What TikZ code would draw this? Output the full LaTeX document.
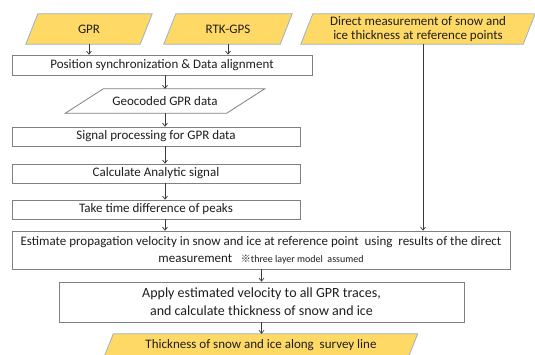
\documentclass[tikz,border=0pt]{standalone}
\usepackage{fontspec}
\setmainfont{Carlito}
\newfontfamily\cjkfont{Noto Sans CJK JP}
\usetikzlibrary{backgrounds,arrows.meta}
\definecolor{gold}{HTML}{FFD966}
\definecolor{edgeblue}{HTML}{9AB0C8}
\definecolor{boxgrey}{HTML}{808080}
\definecolor{arrgrey}{HTML}{3A3A3A}
\definecolor{txt}{HTML}{1E1E1E}
\tikzset{
  base/.style={inner sep=0pt, align=center, text=txt},
  stepbox/.style={base, draw=boxgrey, fill=white, line width=0.8pt, font=\fontsize{13}{15}\selectfont},
  bigbox/.style={stepbox, font=\fontsize{14}{18}\selectfont},
  paratext/.style={base, font=\fontsize{13}{14.5}\selectfont},
  parashape/.style={fill=gold, draw=edgeblue, line width=0.8pt},
  flow/.style={draw=arrgrey, line width=0.7pt, -{Straight Barb[length=3pt,width=5pt]}},
}
% parallelogram behind a named node: #1 node name, #2 slant (pt)
\newcommand{\paraback}[2]{%
  \begin{scope}[on background layer]
    \path[parashape] ([xshift=-#2/2]#1.south west) -- ([xshift=-#2/2]#1.south east)
      -- ([xshift=#2/2]#1.north east) -- ([xshift=#2/2]#1.north west) -- cycle;
  \end{scope}}
\begin{document}
\begin{tikzpicture}[x=1pt,y=-1pt]
\useasboundingbox (0,0) rectangle (535,354);

% input parallelograms
\node[paratext, minimum width=114pt, minimum height=30pt] (gpr) at (89,29) {GPR};
\paraback{gpr}{12pt}
\node[paratext, minimum width=116pt, minimum height=30pt] (rtk) at (228,29) {RTK-GPS};
\paraback{rtk}{12pt}
\node[paratext, minimum width=222pt, minimum height=30pt] (dir) at (418,29)
  {Direct measurement of snow and\\ice thickness at reference points};
\paraback{dir}{12pt}

% process chain
\node[stepbox, minimum width=300pt, minimum height=20pt] (sync) at (162,65)
  {Position synchronization \& Data alignment};
\node[paratext, minimum width=161pt, minimum height=24pt] (geo) at (165,101) {Geocoded GPR data};
\begin{scope}[on background layer]
  \path[fill=white, draw=boxgrey, line width=0.8pt] ([xshift=-19pt]geo.south west) -- ([xshift=-19pt]geo.south east)
    -- ([xshift=19pt]geo.north east) -- ([xshift=19pt]geo.north west) -- cycle;
\end{scope}
\node[stepbox, minimum width=288pt, minimum height=19pt] (sig) at (156,136.5) {Signal processing for GPR data};
\node[stepbox, minimum width=288pt, minimum height=19pt] (calc) at (156,173.5) {Calculate Analytic signal};
\node[stepbox, minimum width=288pt, minimum height=19pt] (take) at (156,209.5) {Take time difference of peaks};
\node[stepbox, minimum width=498pt, minimum height=38pt, font=\fontsize{13}{17}\selectfont] (est) at (261,250)
  {Estimate propagation velocity in snow and ice at reference point\ \ using\ \ results of the direct\\
   measurement\ \ \ {\cjkfont\fontsize{10}{12}\selectfont ※}{\fontsize{10}{12}\selectfont three layer model\ \ assumed}};
\node[bigbox, minimum width=405pt, minimum height=40pt] (app) at (261.5,302)
  {Apply estimated velocity to all GPR traces,\\and calculate thickness of snow and ice};
\node[paratext, minimum width=304pt, minimum height=22pt] (thick) at (261,345) {Thickness of snow and ice along\ \ survey line};
\paraback{thick}{9pt}

% connectors
\draw[flow] (gpr.south) -- (gpr.south |- sync.north);
\draw[flow] (rtk.south) -- (rtk.south |- sync.north);
\draw[flow] (geo.north |- sync.south) -- (geo.north);
\draw[flow] (geo.south) -- (geo.south |- sig.north);
\draw[flow] (geo.south |- sig.south) -- (geo.south |- calc.north);
\draw[flow] (geo.south |- calc.south) -- (geo.south |- take.north);
\draw[flow] (geo.south |- take.south) -- (geo.south |- est.north);
\draw[flow] ([xshift=5pt]dir.south) -- ([xshift=5pt]dir.south |- est.north);
\draw[flow] (app.north |- est.south) -- (app.north);
\draw[flow] (app.south) -- (app.south |- thick.north);
\end{tikzpicture}
\end{document}
